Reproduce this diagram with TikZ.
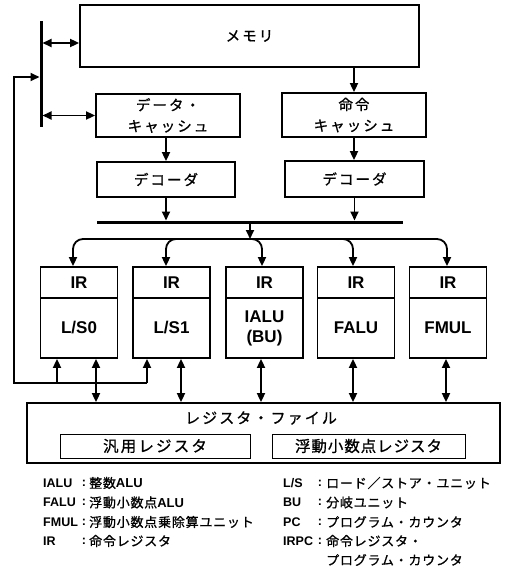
\documentclass[tikz,border=0pt]{standalone}
\usepackage{fontspec}
\setmainfont{Liberation Sans}
\newfontfamily\jpbox[LetterSpace=14,FakeBold=0.8]{Noto Sans CJK JP}
\newfontfamily\jpleg[LetterSpace=6,FakeBold=0.8]{Noto Sans CJK JP}
\usetikzlibrary{arrows.meta}
\begin{document}
\begin{tikzpicture}[x=1pt,y=-1pt,
  >={Triangle[length=9pt,width=8pt]},
  box/.style={draw,line width=1.8pt,inner sep=0pt,align=center},
  ln/.style={line width=1.8pt},
  ar/.style={ln,->},
  bar/.style={ln,<->},
  busline/.style={line width=3pt},
  jt/.style={font=\jpbox\fontsize{14.5}{21}\selectfont},
  ut/.style={font=\bfseries\fontsize{17}{20}\selectfont},
  lt/.style={font=\bfseries\fontsize{12.5}{14}\selectfont,anchor=west,inner sep=0pt},
  lc/.style={font=\bfseries\fontsize{12.5}{14}\selectfont,inner sep=0pt},
  jl/.style={font=\jpleg\fontsize{13}{15}\selectfont,anchor=west,inner sep=0pt},
  ubox/.style={box,ut,minimum width=77pt,minimum height=60pt},
  irbox/.style={box,ut,minimum width=77pt,minimum height=31pt},
  regbox/.style={draw,line width=1pt,inner sep=0pt,minimum height=24pt}]
\useasboundingbox (0,0) rectangle (504,568);
\fill[white] (0,0) rectangle (504,568);

% upper blocks
\node[box,jt,minimum width=339pt,minimum height=62pt] (mem) at (249.5,36) {メモリ};
\node[box,jt,minimum width=144pt,minimum height=43pt] (dc) at (168,115.5) {データ・\\キャッシュ};
\node[box,jt,minimum width=144pt,minimum height=44pt] (ic) at (354,115) {命令\\キャッシュ};
\node[box,jt,minimum width=138pt,minimum height=35pt] (decL) at (166,179.5) {デコーダ};
\node[box,jt,minimum width=139pt,minimum height=36pt] (decR) at (354.5,179) {デコーダ};

% vertical bus on the left
\coordinate (vbT) at (41,21);
\coordinate (vbB) at (41,127);
\draw[busline] (vbT) -- (vbB);
\coordinate (mA) at (41,43);
\draw[bar,shorten <=1.5pt] (mA) -- (mA -| mem.west);
\draw[bar,shorten <=1.5pt] (vbT |- dc.west) -- (dc.west);

\draw[ar] (ic.north |- mem.south) -- (ic.north);
\draw[ar] (decL.north |- dc.south) -- (decL.north);
\draw[ar] (ic.south) -- (ic.south |- decR.north);

% horizontal bus
\coordinate (hbL) at (97,222);
\coordinate (hbR) at (403,222);
\draw[busline] (hbL) -- (hbR);
\draw[ar,shorten >=1.5pt] (decL.south) -- (decL.south |- hbL);
\draw[ar,shorten >=1.5pt] (decR.south) -- (decR.south |- hbL);

% execution units
\node[irbox] (ir1) at (79,282.5) {IR};
\node[ubox] (u1) at (79,328) {L/S0};
\node[irbox] (ir2) at (171.5,282.5) {IR};
\node[ubox] (u2) at (171.5,328) {L/S1};
\node[irbox] (ir3) at (264.5,282.5) {IR};
\node[ubox] (u3) at (264.5,328) {IALU\\(BU)};
\node[irbox] (ir4) at (356,282.5) {IR};
\node[ubox] (u4) at (356,328) {FALU};
\node[irbox] (ir5) at (448,282.5) {IR};
\node[ubox] (u5) at (448,328) {FMUL};

% distribution
\coordinate (hbO) at (250,222);
\coordinate (jn) at (250,239);
\draw[ar,shorten <=1.5pt] (hbO) -- (jn);
\draw[ar,rounded corners=10pt] (jn) -| ([xshift=-6pt]ir1.north);
\draw[ar,rounded corners=10pt] (jn) -| ([xshift=-5.5pt]ir2.north);
\draw[ar,rounded corners=10pt] (jn) -| ([xshift=-2.5pt]ir3.north);
\draw[ar,rounded corners=10pt] (jn) -| ([xshift=-3pt]ir4.north);
\draw[ar,rounded corners=10pt] (jn) -| ([xshift=-1pt]ir5.north);

% register file
\node[box,minimum width=473pt,minimum height=60pt] (rf) at (263.5,433) {};
\node[font=\jpbox\fontsize{15}{17}\selectfont] (rfl) at (261,418) {レジスタ・ファイル};
\node[regbox,minimum width=190pt,font=\jpbox\fontsize{15.5}{17}\selectfont] (gp) at (155,446) {汎用レジスタ};
\node[regbox,minimum width=193pt,font=\jpleg\fontsize{15.5}{17}\selectfont] (fp) at (368.5,446) {浮動小数点レジスタ};

\draw[bar] ([xshift=17pt]u1.south) -- ([xshift=17pt]u1.south |- rf.north);
\draw[bar] ([xshift=9.5pt]u2.south) -- ([xshift=9.5pt]u2.south |- rf.north);
\draw[bar] ([xshift=-3.5pt]u3.south) -- ([xshift=-3.5pt]u3.south |- rf.north);
\draw[bar] ([xshift=-3pt]u4.south) -- ([xshift=-3pt]u4.south |- rf.north);
\draw[bar] ([xshift=-2pt]u5.south) -- ([xshift=-2pt]u5.south |- rf.north);

% feedback path
\coordinate (fbL) at (14,383);
\coordinate (fbT) at (14,77);
\coordinate (fbA) at (57,383);
\coordinate (fbB) at (147,383);
\draw[ar,shorten >=1.5pt] (fbB) -- (fbL) -- (fbT) -- (fbT -| vbT);
\draw[ar] (fbA) -- (fbA |- u1.south);
\draw[ar] (fbB) -- (fbB |- u2.south);

% legend left
\node[lt] (k1) at (43,483) {IALU};
\node[lc] (c1) at (84,483) {:};
\node[jl] (t1) at (89,483) {整数{\normalfont\bfseries ALU}};
\node[lt] (k2) at (43,502.5) {FALU};
\node[lc] (c2) at (84,502.5) {:};
\node[jl] (t2) at (89,502.5) {浮動小数点{\normalfont\bfseries ALU}};
\node[lt] (k3) at (43,522) {FMUL};
\node[lc] (c3) at (84,522) {:};
\node[jl] (t3) at (89,522) {浮動小数点乗除算ユニット};
\node[lt] (k4) at (43,541) {IR};
\node[lc] (c4) at (84,541) {:};
\node[jl] (t4) at (89,541) {命令レジスタ};

% legend right
\node[lt] (k5) at (283,483) {L/S};
\node[lc] (c5) at (320,483) {:};
\node[jl] (t5) at (326,483) {ロード／ストア・ユニット};
\node[lt] (k6) at (283,502.5) {BU};
\node[lc] (c6) at (320,502.5) {:};
\node[jl] (t6) at (326,502.5) {分岐ユニット};
\node[lt] (k7) at (283,522) {PC};
\node[lc] (c7) at (320,522) {:};
\node[jl] (t7) at (326,522) {プログラム・カウンタ};
\node[lt] (k8) at (283,541) {IRPC};
\node[lc] (c8) at (320,541) {:};
\node[jl] (t8) at (326,541) {命令レジスタ・};
\node[jl] (t9) at (326,560) {プログラム・カウンタ};
\end{tikzpicture}
\end{document}
